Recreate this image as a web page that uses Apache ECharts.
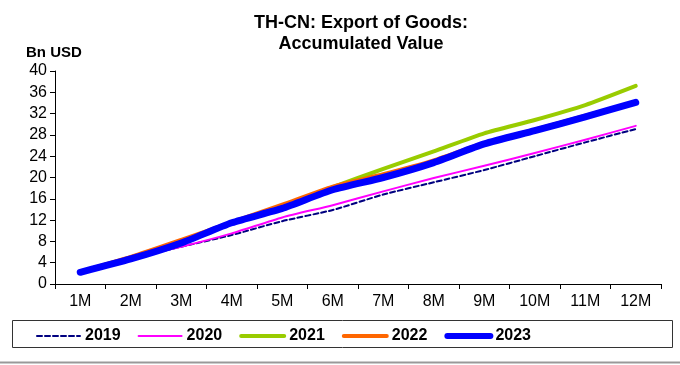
<!DOCTYPE html>
<html>
<head>
<meta charset="utf-8">
<script src="https://cdn.jsdelivr.net/npm/echarts@6/dist/echarts.min.js"></script>
<style>
html,body{margin:0;padding:0;background:#fff;}
#c{width:680px;height:365px;}
</style>
</head>
<body>
<div id="c"></div>
<script>
const categories = ['1M','2M','3M','4M','5M','6M','7M','8M','9M','10M','11M','12M'];
const y2019 = [2.3, 4.8, 7.0, 9.2, 11.8, 13.9, 16.8, 19.1, 21.4, 24.0, 26.6, 29.1];
const y2020 = [2.3, 4.9, 7.0, 9.5, 12.5, 14.8, 17.4, 19.9, 22.2, 24.6, 27.1, 29.7];
const y2021 = [2.3, 5.0, 8.1, 11.5, 14.7, 18.2, 21.6, 24.9, 28.3, 30.8, 33.6, 37.2];
const y2022 = [2.3, 5.1, 8.3, 11.6, 14.9, 18.3, 20.6, 23.2, 26.5, 29.0, 31.6, 34.2];
const y2023 = [2.2, 4.7, 7.7, 11.5, 14.2, 17.7, 20.0, 22.8, 26.3, 28.8, 31.4, 34.1];
const yTicks = [0, 4, 8, 12, 16, 20, 24, 28, 32, 36, 40];
const seriesNames = ['2019', '2020', '2021', '2022', '2023'];

const chart = echarts.init(document.getElementById('c'), null, {renderer: 'canvas'});
const font = 'Liberation Sans, Arial, sans-serif';
const colors = ['#000080', '#FF00FF', '#99CC00', '#FF6600', '#0000FF'];
const widths = [2, 2, 4, 4, 7];
const types = [[5, 3], 'solid', 'solid', 'solid', 'solid'];
const legendWidths = [2, 2, 4, 4, 6];
const allData = [y2019, y2020, y2021, y2022, y2023];

chart.setOption({
  animation: false,
  backgroundColor: '#fff',
  title: [
    {text: 'TH-CN: Export of Goods:\nAccumulated Value', left: 356, top: 8, textAlign: 'center',
     textStyle: {fontFamily: font, fontWeight: 'bold', fontSize: 18, lineHeight: 21, color: '#000'}},
    {text: 'Bn USD', left: 21, top: 40,
     textStyle: {fontFamily: font, fontWeight: 'bold', fontSize: 15, color: '#000'}}
  ],
  grid: {left: 55, right: 19, top: 71, bottom: 81},
  xAxis: {
    type: 'category', data: categories, boundaryGap: true,
    axisLine: {lineStyle: {color: '#000', width: 1}},
    axisTick: {show: true, length: 5, interval: 0, lineStyle: {color: '#000'}},
    axisLabel: {fontFamily: font, fontSize: 16, color: '#000', margin: 10, interval: 0}
  },
  yAxis: {
    type: 'value', min: yTicks[0], max: yTicks[yTicks.length - 1], interval: 4,
    axisLine: {show: true, lineStyle: {color: '#000', width: 1}},
    axisTick: {show: true, length: 5, lineStyle: {color: '#000'}},
    axisLabel: {fontFamily: font, fontSize: 16, color: '#000', margin: 8},
    splitLine: {show: false}
  },
  legend: {
    left: 31, top: 323, itemWidth: 43, itemHeight: 12, itemGap: 17,
    textStyle: {fontFamily: font, fontWeight: 'bold', fontSize: 16, color: '#000'},
    data: seriesNames.map((n, i) => ({
      name: n,
      itemStyle: {opacity: 0},
      lineStyle: {width: legendWidths[i], color: colors[i], type: types[i], cap: 'round'}
    }))
  },
  graphic: [
    {type: 'rect', shape: {x: 12.5, y: 320.5, width: 660, height: 27}, style: {fill: 'none', stroke: '#333', lineWidth: 1}, z: -1},
    {type: 'line', shape: {x1: 0, y1: 362.5, x2: 680, y2: 362.5}, style: {stroke: '#999', lineWidth: 2}}
  ],
  series: seriesNames.map((n, i) => ({
    name: n, type: 'line', data: allData[i], symbol: 'none', smooth: 0.2, z: i + 1,
    lineStyle: {color: colors[i], width: widths[i], type: types[i], cap: 'round', join: 'round'},
    itemStyle: {color: colors[i]}
  }))
});
</script>
</body>
</html>
